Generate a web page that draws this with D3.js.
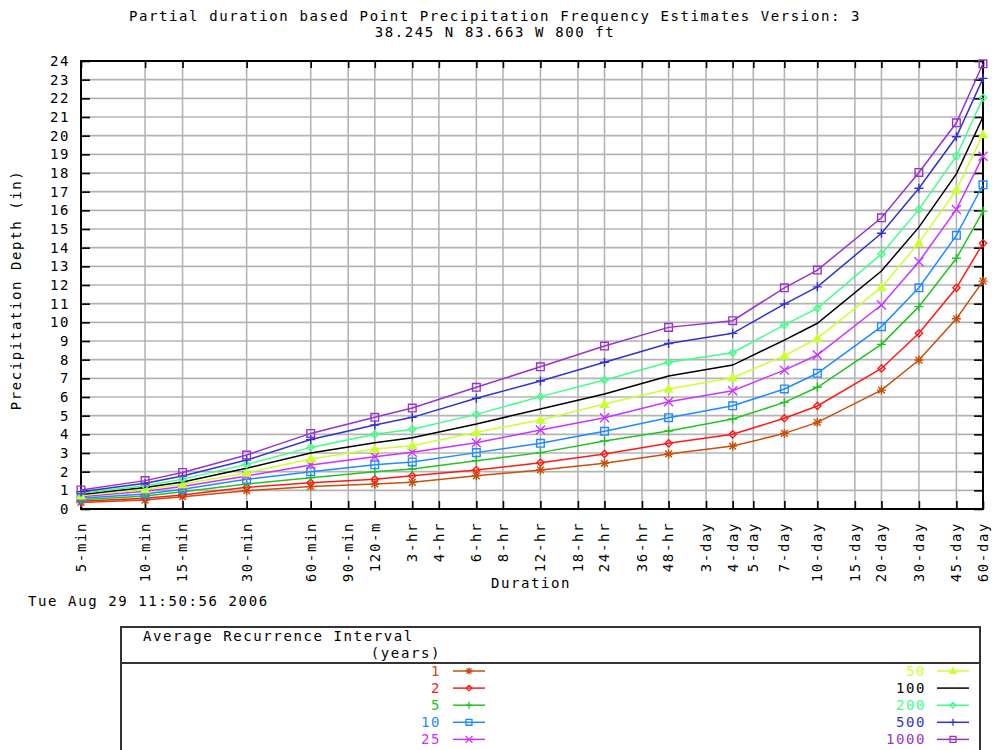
<!DOCTYPE html>
<html>
<head>
<meta charset="utf-8">
<title>Point Precipitation Frequency Estimates</title>
<script src="https://d3js.org/d3.v7.min.js"></script>
<style>
  body { margin: 0; background: white; }
  text { font-family: "DejaVu Sans Mono", "Liberation Mono", monospace; font-size: 14px; letter-spacing: 1.6px; }
  .grid line { stroke: #b4b4b4; stroke-width: 1.6; }
  .axis path { display: none; }
  .axis line { stroke: black; stroke-width: 1.6; }
</style>
</head>
<body>
<svg id="chart" width="992" height="750"></svg>
<script>
// durations with computed estimates
var durations = ["5-min","10-min","15-min","30-min","60-min","120-m","3-hr","6-hr","12-hr","24-hr","48-hr","4-day","7-day","10-day","20-day","30-day","45-day","60-day"];
var durationMinutes = [5,10,15,30,60,120,180,360,720,1440,2880,5760,10080,14400,28800,43200,64800,86400];

// x axis tick labels
var tickLabels = ["5-min","10-min","15-min","30-min","60-min","90-min","120-m","3-hr","4-hr","6-hr","8-hr","12-hr","18-hr","24-hr","36-hr","48-hr","3-day","4-day","5-day","7-day","10-day","15-day","20-day","30-day","45-day","60-day"];
var tickMinutes = [5,10,15,30,60,90,120,180,240,360,480,720,1080,1440,2160,2880,4320,5760,7200,10080,14400,21600,28800,43200,64800,86400];

// average recurrence intervals (years)
var intervals = ["1","2","5","10","25","50","100","200","500","1000"];
var colors = ["#c8500a","#ff1a1a","#22c322","#1e8cff","#cc33ff","#ccff33","#000000","#40ff88","#3333cc","#9933cc"];
var markers = ["star","diamond","plus","square","cross","triangle","none","diamond","plus","square"];

// precipitation depth (in), one array per interval
var ari1    = [0.35,0.48,0.66,0.98,1.20,1.34,1.43,1.78,2.09,2.45,2.95,3.37,4.05,4.64,6.37,7.98,10.19,12.21];
var ari2    = [0.42,0.57,0.75,1.16,1.41,1.59,1.78,2.09,2.48,2.95,3.52,4.00,4.86,5.52,7.53,9.41,11.85,14.23];
var ari5    = [0.50,0.70,0.93,1.34,1.68,2.00,2.14,2.59,3.02,3.64,4.18,4.82,5.71,6.52,8.82,10.84,13.43,15.96];
var ari10   = [0.57,0.80,1.06,1.59,2.00,2.37,2.52,3.02,3.52,4.16,4.89,5.53,6.43,7.27,9.77,11.85,14.66,17.37];
var ari25   = [0.66,0.95,1.20,1.77,2.36,2.80,3.04,3.55,4.23,4.89,5.75,6.34,7.44,8.25,10.93,13.25,16.05,18.90];
var ari50   = [0.72,1.05,1.32,1.94,2.68,3.21,3.39,4.11,4.77,5.62,6.43,7.03,8.21,9.14,11.87,14.26,17.09,20.07];
var ari100  = [0.78,1.15,1.45,2.18,3.00,3.55,3.82,4.55,5.36,6.16,7.12,7.71,9.05,9.95,12.75,15.10,17.95,21.00];
var ari200  = [0.84,1.25,1.60,2.39,3.30,4.00,4.27,5.07,6.02,6.91,7.86,8.37,9.86,10.75,13.66,16.05,18.90,22.03];
var ari500  = [0.93,1.38,1.77,2.62,3.72,4.50,4.91,5.93,6.86,7.86,8.87,9.41,10.98,11.90,14.77,17.18,19.94,23.07];
var ari1000 = [1.02,1.52,1.96,2.89,4.05,4.91,5.41,6.52,7.62,8.73,9.73,10.09,11.85,12.80,15.60,18.03,20.69,23.85];
var series = [ari1,ari2,ari5,ari10,ari25,ari50,ari100,ari200,ari500,ari1000];

var yTicks = d3.range(0, 25);

var svg = d3.select("#chart");
var pLeft = 81, pRight = 983, pTop = 61, pBottom = 509;

var x = d3.scaleLog().domain([5, 86400]).range([pLeft, pRight]);
var y = d3.scaleLinear().domain([0, 24]).range([pBottom, pTop]);

// title
svg.append("text").attr("x", 495).attr("y", 21).attr("text-anchor", "middle")
  .text("Partial duration based Point Precipitation Frequency Estimates Version: 3");
svg.append("text").attr("x", 495).attr("y", 37).attr("text-anchor", "middle")
  .text("38.245 N 83.663 W 800 ft");

// grid
var grid = svg.append("g").attr("class", "grid");
grid.selectAll(".h").data(yTicks).enter().append("line")
  .attr("x1", pLeft).attr("x2", pRight)
  .attr("y1", function(d) { return y(d); }).attr("y2", function(d) { return y(d); });
grid.selectAll(".v").data(tickMinutes).enter().append("line")
  .attr("y1", pTop).attr("y2", pBottom)
  .attr("x1", function(d) { return x(d); }).attr("x2", function(d) { return x(d); });

// inside ticks on all four sides
svg.append("g").attr("class", "axis").attr("transform", "translate(0," + pBottom + ")")
  .call(d3.axisBottom(x).tickValues(tickMinutes).tickSize(-8).tickFormat(""));
svg.append("g").attr("class", "axis").attr("transform", "translate(0," + pTop + ")")
  .call(d3.axisTop(x).tickValues(tickMinutes).tickSize(-7).tickFormat(""));
svg.append("g").attr("class", "axis").attr("transform", "translate(" + pLeft + ",0)")
  .call(d3.axisLeft(y).tickValues(yTicks).tickSize(-9).tickFormat(""));
svg.append("g").attr("class", "axis").attr("transform", "translate(" + pRight + ",0)")
  .call(d3.axisRight(y).tickValues(yTicks).tickSize(-9).tickFormat(""));

// frame
svg.append("rect").attr("x", pLeft).attr("y", pTop).attr("width", pRight - pLeft).attr("height", pBottom - pTop)
  .attr("fill", "none").attr("stroke", "black").attr("stroke-width", 2);

// y labels
svg.selectAll(".ylab").data(yTicks).enter().append("text")
  .attr("x", 70).attr("y", function(d) { return y(d); }).attr("dy", "0.35em")
  .attr("text-anchor", "end").text(function(d) { return d; });

// x labels
svg.selectAll(".xlab").data(tickMinutes).enter().append("text")
  .attr("transform", function(d) { return "translate(" + x(d) + ",522) rotate(-90)"; })
  .attr("dy", "0.35em").attr("text-anchor", "end")
  .text(function(d, i) { return tickLabels[i]; });

svg.append("text").attr("x", 531).attr("y", 588).attr("text-anchor", "middle").text("Duration");
svg.append("text").attr("transform", "translate(21,290) rotate(-90)").attr("text-anchor", "middle")
  .text("Precipitation Depth (in)");
svg.append("text").attr("x", 28).attr("y", 606).text("Tue Aug 29 11:50:56 2006");

function markerPath(type, s) {
  switch (type) {
    case "star": return "M" + (-s) + ",0H" + s + "M0," + (-s) + "V" + s +
      "M" + (-s*0.75) + "," + (-s*0.75) + "L" + (s*0.75) + "," + (s*0.75) +
      "M" + (-s*0.75) + "," + (s*0.75) + "L" + (s*0.75) + "," + (-s*0.75);
    case "diamond": return "M0," + (-s*0.8) + "L" + (s*0.8) + ",0L0," + (s*0.8) + "L" + (-s*0.8) + ",0Z";
    case "plus": return "M" + (-s) + ",0H" + s + "M0," + (-s) + "V" + s;
    case "square": return "M" + (-s*0.85) + "," + (-s*0.85) + "h" + (s*1.7) + "v" + (s*1.7) + "h" + (-s*1.7) + "Z";
    case "cross": return "M" + (-s) + "," + (-s) + "L" + s + "," + s + "M" + (-s) + "," + s + "L" + s + "," + (-s);
    case "triangle": return "M0," + (-s*0.9) + "L" + (s*0.9) + "," + (s*0.7) + "L" + (-s*0.9) + "," + (s*0.7) + "Z";
  }
  return "";
}

var line = d3.line()
  .x(function(d, i) { return x(durationMinutes[i]); })
  .y(function(d) { return y(d); });

var plot = svg.append("g");
series.forEach(function(vals, k) {
  plot.append("path").datum(vals).attr("d", line)
    .attr("fill", "none").attr("stroke", colors[k]).attr("stroke-width", 1.5);
  if (markers[k] !== "none") {
    plot.selectAll(".m" + k).data(vals).enter().append("path")
      .attr("transform", function(d, i) { return "translate(" + x(durationMinutes[i]) + "," + y(d) + ")"; })
      .attr("d", markerPath(markers[k], 4.5))
      .attr("fill", markers[k] === "triangle" ? colors[k] : "none")
      .attr("stroke", colors[k]).attr("stroke-width", 1.4);
  }
});

// legend
var lg = svg.append("g");
lg.append("rect").attr("x", 121).attr("y", 627).attr("width", 859).attr("height", 140)
  .attr("fill", "none").attr("stroke", "#333").attr("stroke-width", 2);
lg.append("line").attr("x1", 121).attr("x2", 980).attr("y1", 663).attr("y2", 663)
  .attr("stroke", "#333").attr("stroke-width", 2);
lg.append("text").attr("x", 143).attr("y", 641).text("Average Recurrence Interval");
lg.append("text").attr("x", 441).attr("y", 658).attr("text-anchor", "end").text("(years)");

intervals.forEach(function(lab, k) {
  var col = k < 5 ? 0 : 1;
  var row = k % 5;
  var tx = col === 0 ? 441 : 926;
  var lx = col === 0 ? 453 : 937;
  var yy = 671 + row * 17.1;
  lg.append("text").attr("x", tx).attr("y", yy + 5).attr("text-anchor", "end")
    .attr("fill", colors[k]).text(lab);
  lg.append("line").attr("x1", lx).attr("x2", lx + 32).attr("y1", yy).attr("y2", yy)
    .attr("stroke", colors[k]).attr("stroke-width", 1.5);
  if (markers[k] !== "none") {
    lg.append("path").attr("transform", "translate(" + (lx + 16) + "," + yy + ")")
      .attr("d", markerPath(markers[k], 3.5))
      .attr("fill", markers[k] === "triangle" ? colors[k] : "none")
      .attr("stroke", colors[k]).attr("stroke-width", 1.3);
  }
});
</script>
</body>
</html>
